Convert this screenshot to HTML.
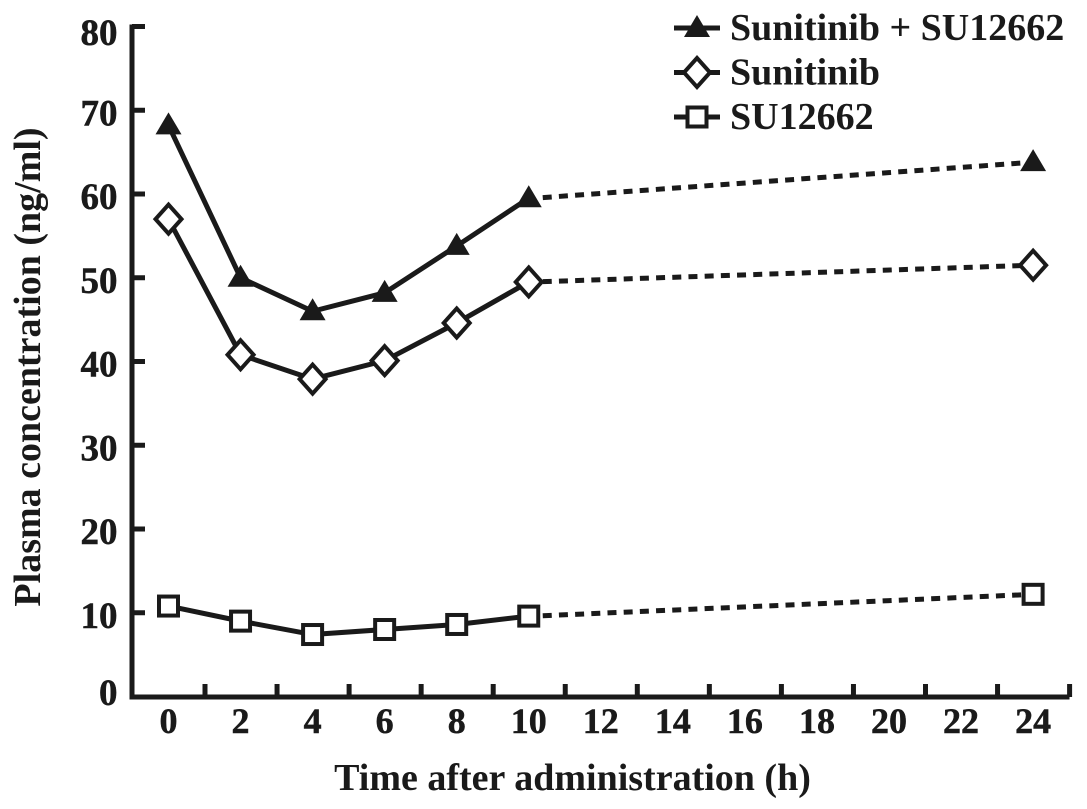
<!DOCTYPE html>
<html>
<head>
<meta charset="utf-8">
<style>
html,body{margin:0;padding:0;background:#fff;width:1087px;height:809px;overflow:hidden}
svg{display:block}
text{font-family:"Liberation Serif",serif;font-weight:bold;fill:#1a1a1a}
</style>
</head>
<body>
<svg id="chart" width="1087" height="809" viewBox="0 0 1087 809" xmlns="http://www.w3.org/2000/svg">
<text transform="translate(40,367) rotate(-90)" text-anchor="middle" font-size="38">Plasma concentration (ng/ml)</text>
<text x="572.5" y="790" text-anchor="middle" font-size="38">Time after administration (h)</text>
</svg>
<script>
const categories = [0, 2, 4, 6, 8, 10, 12, 14, 16, 18, 20, 22, 24];
const yTicks = [0, 10, 20, 30, 40, 50, 60, 70, 80];
const combinedHours = [0, 2, 4, 6, 8, 10, 24];
const combinedValues = [68.2, 50.0, 46.0, 48.2, 53.8, 59.5, 63.8];
const sunitinibValues = [57.0, 40.8, 37.9, 40.1, 44.6, 49.5, 51.5];
const su12662Values = [10.8, 9.0, 7.4, 8.0, 8.6, 9.6, 12.2];
const legendLabels = ["Sunitinib + SU12662", "Sunitinib", "SU12662"];

const NS = "http://www.w3.org/2000/svg";
const svg = document.getElementById("chart");
const INK = "#1a1a1a";

function xScale(h) { return 168.5 + (h / 2) * 72.05; }
function yScale(v) { return 696.5 - (v / 80) * 670; }

function make(tag, props, text) {
  const el = document.createElementNS(NS, tag);
  for (const k in props) el.setAttribute(k, props[k]);
  if (text !== undefined) el.textContent = text;
  svg.appendChild(el);
  return el;
}

function drawMarker(kind, x, y) {
  if (kind === "triangle") {
    return make("polygon", { points: (x) + "," + (y - 13) + " " + (x - 13) + "," + (y + 9) + " " + (x + 13) + "," + (y + 9), fill: INK });
  }
  if (kind === "diamond") {
    return make("polygon", { points: x + "," + (y - 14.5) + " " + (x + 13) + "," + y + " " + x + "," + (y + 14.5) + " " + (x - 13) + "," + y, fill: "#fff", stroke: INK, "stroke-width": 4 });
  }
  return make("rect", { x: x - 9.5, y: y - 9.5, width: 19, height: 19, fill: "#fff", stroke: INK, "stroke-width": 4 });
}

// axes
const yAxis = make("line", { x1: 132, y1: 24.5, x2: 132, y2: 699.5, stroke: INK, "stroke-width": 5 });


const xAxis = make("line", { x1: 129.5, y1: 697, x2: 1069.5, y2: 697, stroke: INK, "stroke-width": 5 });



yTicks.forEach(function (v) {
  const y = yScale(v);
  if (v > 0) {
    const t = make("line", { x1: 132, y1: y, x2: 145, y2: y, stroke: INK, "stroke-width": 5 });
    
    
  }
  const base = Math.min(705, Math.max(45, y + 15));
  const l = make("text", { x: 117.5, y: base, "text-anchor": "end", "font-size": 37, stroke: INK, "stroke-width": 0.5 }, v);
  
  
});

categories.forEach(function (h) {
  const tx = xScale(h) + 36.5;
  const t = make("line", { x1: tx, y1: 684, x2: tx, y2: 697, stroke: INK, "stroke-width": 5 });
  
  
  const l = make("text", { x: xScale(h), y: 733, "text-anchor": "middle", "font-size": 36, stroke: INK, "stroke-width": 0.5 }, h);
  
  
});

// series
function drawSeries(values, kind, name) {
  const last = values.length - 1;
  const solid = values.slice(0, last).map(function (v, i) {
    return xScale(combinedHours[i]) + "," + yScale(v);
  }).join(" ");
  const line = make("polyline", { points: solid, fill: "none", stroke: INK, "stroke-width": 5, "stroke-linejoin": "round" });
  
  
  const dash = make("line", {
    x1: xScale(combinedHours[last - 1]) + 14, y1: yScale(values[last - 1] + (values[last] - values[last - 1]) * 0.016),
    x2: xScale(combinedHours[last]), y2: yScale(values[last]),
    stroke: INK, "stroke-width": 5, "stroke-dasharray": "9 7.2"
  });
  
  
  values.forEach(function (v, i) {
    const m = drawMarker(kind, xScale(combinedHours[i]), yScale(v));
    
    
  });
}
drawSeries(combinedValues, "triangle", "sunitinib-su12662");
drawSeries(sunitinibValues, "diamond", "sunitinib");
drawSeries(su12662Values, "square", "su12662");

// legend
const legendKinds = ["triangle", "diamond", "square"];
legendLabels.forEach(function (label, i) {
  const y = 28 + i * 44.5;
  const s = make("line", { x1: 674, y1: y, x2: 720, y2: y, stroke: INK, "stroke-width": 5 });
  
  
  const m = drawMarker(legendKinds[i], 697, y);
  
  
  const t = make("text", { x: 730, y: y + 12, "font-size": 38 }, label);
  
  
});
</script>
</body>
</html>
